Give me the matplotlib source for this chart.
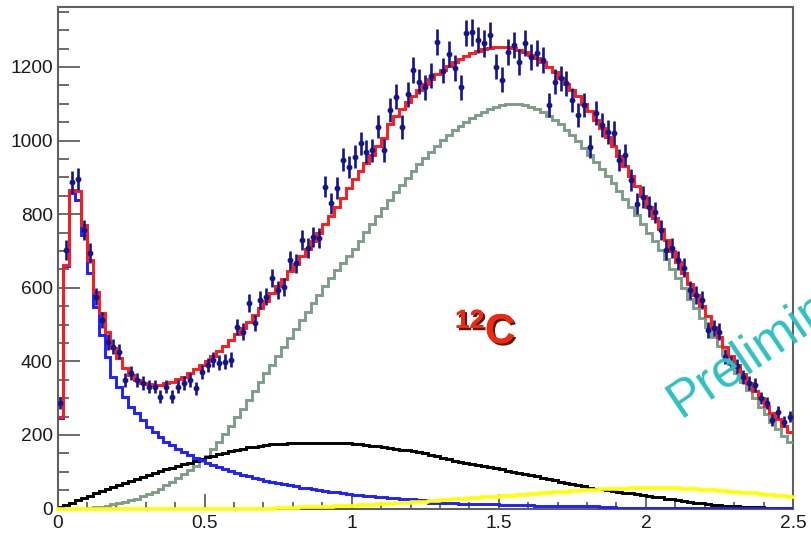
import numpy as np
import matplotlib
matplotlib.use("Agg")
import matplotlib.pyplot as plt
import matplotlib.patheffects as pe
from matplotlib.ticker import MultipleLocator, FuncFormatter

# Binning of the spectrum: 125 bins between 0 and 2.5
x_min, x_max, n_bins = 0.0, 2.5, 125

# Measured counts per bin
data_counts = [
    287, 703, 888, 895, 757, 694, 576, 512, 453, 440,
    426, 349, 368, 349, 341, 331, 331, 304, 331, 304,
    331, 341, 349, 327, 370, 390, 404, 396, 399, 404,
    494, 481, 558, 504, 567, 576, 627, 594, 603, 675,
    667, 730, 708, 739, 735, 875, 830, 871, 948, 928,
    956, 993, 970, 974, 1038, 974, 1083, 1119, 1036, 1126,
    1192, 1160, 1145, 1176, 1267, 1190, 1236, 1197, 1145, 1292,
    1294, 1273, 1264, 1287, 1201, 1165, 1240, 1260, 1214, 1265,
    1228, 1238, 1219, 1097, 1160, 1169, 1156, 1110, 1070, 1097,
    983, 1075, 1042, 1024, 1020, 947, 961, 893, 828, 847,
    820, 805, 757, 703, 708, 675, 654, 594, 580, 567,
    485, 490, 481, 413, 395, 386, 358, 341, 336, 300,
    287, 241, 263, 236, 250,
]

# Total fit
fit_total = [
    250, 662, 866, 864, 770, 675, 589, 531, 481, 436,
    409, 382, 363, 349, 342, 338, 336, 336, 340, 345,
    351, 358, 367, 378, 390, 402, 415, 429, 443, 458,
    473, 490, 508, 527, 546, 565, 585, 605, 625, 645,
    665, 685, 706, 728, 750, 773, 796, 820, 845, 870,
    895, 917, 940, 962, 984, 1006, 1045, 1066, 1086, 1105,
    1122, 1138, 1153, 1167, 1180, 1192, 1203, 1213, 1222, 1230,
    1237, 1243, 1248, 1251, 1253, 1254, 1253, 1251, 1247, 1241,
    1233, 1224, 1213, 1200, 1186, 1171, 1155, 1138, 1120, 1100,
    1079, 1057, 1034, 1010, 985, 959, 932, 905, 877, 848,
    819, 789, 759, 729, 699, 669, 639, 609, 580, 551,
    522, 494, 467, 440, 414, 389, 365, 342, 320, 299,
    279, 260, 242, 225, 208,
]

# Fit components
comp_blue = [
    246, 660, 857, 838, 743, 640, 548, 472, 413, 358,
    331, 304, 277, 259, 241, 222, 207, 194, 182, 172,
    163, 154, 146, 138, 131, 124, 118, 112, 106, 101,
    96, 91, 87, 83, 79, 75, 72, 69, 66, 63,
    60, 57, 55, 52, 50, 48, 46, 44, 42, 40,
    38, 36, 35, 33, 32, 30, 29, 28, 27, 26,
    25, 24, 23, 15, 15, 14, 14, 14, 13, 13,
    13, 12, 12, 12, 11, 10, 10, 10, 9, 9,
    9, 8, 8, 8, 7, 7, 7, 7, 6, 6,
    6, 6, 5, 5, 5, 2, 2, 2, 2, 2,
    2, 2, 2, 2, 2, 2, 2, 2, 2, 2,
    2, 2, 2, 2, 2, 2, 2, 2, 2, 2,
    2, 2, 2, 2, 2,
]

comp_gray = [
    0, 0, 0, 0, 0, 1, 3, 5, 8, 11,
    14, 18, 22, 27, 33, 39, 46, 54, 63, 72,
    82, 93, 104, 116, 129, 143, 162, 182, 203, 225,
    248, 271, 295, 319, 343, 367, 391, 415, 439, 463,
    487, 511, 535, 558, 581, 604, 627, 649, 667, 686,
    705, 728, 751, 773, 795, 817, 839, 859, 879, 898,
    917, 935, 953, 970, 986, 1001, 1015, 1028, 1040, 1051,
    1061, 1070, 1078, 1085, 1091, 1096, 1099, 1100, 1099, 1096,
    1092, 1086, 1078, 1068, 1057, 1044, 1030, 1015, 998, 980,
    961, 943, 924, 905, 885, 864, 842, 820, 797, 774,
    750, 726, 702, 677, 652, 627, 598, 570, 544, 518,
    492, 467, 442, 417, 393, 369, 345, 322, 299, 277,
    256, 236, 217, 198, 180,
]

comp_black = [
    3, 9, 15, 22, 28, 35, 41, 47, 53, 59,
    65, 70, 76, 81, 86, 91, 96, 101, 106, 111,
    116, 120, 125, 130, 135, 139, 144, 148, 152, 156,
    159, 163, 166, 168, 170, 172, 174, 175, 176, 177,
    178, 178, 179, 179, 179, 179, 178, 178, 177, 177,
    176, 175, 173, 171, 169, 167, 165, 163, 160, 158,
    155, 153, 150, 146, 142, 138, 134, 130, 127, 124,
    121, 118, 115, 112, 109, 106, 103, 100, 96, 93,
    90, 87, 84, 80, 77, 73, 70, 66, 63, 60,
    57, 54, 52, 50, 48, 46, 43, 41, 39, 37,
    35, 32, 30, 27, 25, 22, 20, 18, 16, 14,
    12, 10, 9, 8, 7, 6, 5, 4, 3, 3,
    2, 2, 1, 1, 1,
]

comp_yellow = [
    0, 0, 0, 0, 0, 0, 0, 0, 0, 0,
    0, 0, 0, 0, 0, 0, 0, 0, 0, 0,
    0, 0, 0, 0, 0, 0, 0, 0, 0, 0,
    0, 0, 0, 0, 0, 0, 0, 1, 1, 2,
    2, 3, 3, 4, 4, 5, 5, 6, 6, 7,
    8, 9, 9, 10, 11, 12, 13, 14, 15, 16,
    17, 18, 19, 20, 21, 22, 23, 25, 26, 27,
    28, 29, 30, 31, 32, 33, 34, 35, 37, 38,
    39, 40, 41, 43, 44, 45, 46, 47, 48, 49,
    50, 51, 52, 53, 53, 54, 54, 55, 55, 56,
    56, 56, 56, 56, 55, 55, 54, 53, 52, 51,
    50, 49, 48, 47, 46, 45, 43, 42, 41, 39,
    38, 36, 35, 34, 32,
]

x_ticks = [0, 0.5, 1, 1.5, 2, 2.5]
y_ticks = [0, 200, 400, 600, 800, 1000, 1200]

edges = np.linspace(x_min, x_max, n_bins + 1)
centers = 0.5 * (edges[1:] + edges[:-1])
counts = np.array(data_counts, dtype=float)

plt.rcParams["font.family"] = ["Liberation Sans", "DejaVu Sans"]

fig = plt.figure(figsize=(8.11, 5.36), dpi=100)
ax = fig.add_axes([57.5 / 811, 1 - 508.5 / 536, (793 - 57.5) / 811, (508.5 - 7) / 536])

lw = 2.1
ax.stairs(comp_gray, edges, baseline=None, color="#7d9d89", lw=lw, zorder=2)
ax.stairs(comp_black, edges, baseline=None, color="black", lw=lw, zorder=3)
ax.stairs(comp_blue, edges, baseline=None, color="#2020ff", lw=lw, zorder=4)
ax.stairs(fit_total, edges, baseline=None, color="#ff1a1a", lw=lw, zorder=6)
ax.errorbar(centers, counts, yerr=np.sqrt(counts), fmt="o", ms=3.2,
            color="#15158a", ecolor="#15158a", elinewidth=1.9, capsize=0,
            zorder=7)
# yellow component lies on the axis line over its lower range: draw it last,
# unclipped, so the full stroke shows on top of the frame
ax.step(edges, np.append(comp_yellow, comp_yellow[-1]), where="post",
        color="#ffff00", lw=2.6, zorder=10, clip_on=False)

ax.set_xlim(x_min, x_max)
ax.set_ylim(0, 1363)

ax.set_xticks(x_ticks)
ax.set_yticks(y_ticks)
ax.xaxis.set_minor_locator(MultipleLocator(0.1))
ax.yaxis.set_minor_locator(MultipleLocator(50))
ax.xaxis.set_major_formatter(FuncFormatter(lambda v, p: f"{v:g}"))
ax.yaxis.set_major_formatter(FuncFormatter(lambda v, p: f"{v:g}"))

axis_grey = "#606060"
for s in ax.spines.values():
    s.set_color(axis_grey)
    s.set_linewidth(1.5)
    s.set_zorder(1)
ax.tick_params(axis="both", which="both", direction="in", colors=axis_grey,
               labelcolor="#1a1a1a", top=False, right=False, width=1.3,
               labelsize=13.8)
ax.tick_params(axis="y", which="major", length=15.8, pad=3.5)
ax.tick_params(axis="y", which="minor", length=7.9)
ax.tick_params(axis="x", which="major", length=10.8, pad=5)
ax.tick_params(axis="x", which="minor", length=5.4)

# Nucleus label with a dark drop shadow
shadow = [pe.withSimplePatchShadow(offset=(1.6, -1.6), shadow_rgbFace="#4a0000",
                                   alpha=0.9), pe.Normal()]
fig.text(455 / 811, 1 - 328 / 536, "12", fontsize=19, fontweight="bold",
         color="#f0280f", ha="left", va="baseline", path_effects=shadow)
fig.text(485 / 811, 1 - 343 / 536, "C", fontsize=30, fontweight="bold",
         color="#f0280f", ha="left", va="baseline", path_effects=shadow)

fig.text(681 / 811, 1 - 418 / 536, "Preliminary", fontsize=37, color="#30c0c0",
         rotation=34, rotation_mode="anchor", ha="left", va="baseline")

fig.savefig("out.png", dpi=100)
